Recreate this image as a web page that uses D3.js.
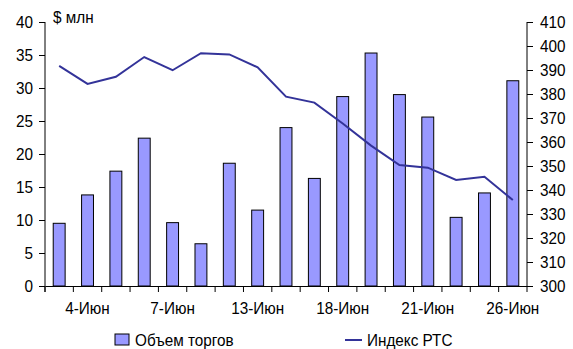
<!DOCTYPE html>
<meta charset="utf-8">
<script src="https://d3js.org/d3.v7.min.js"></script>
<style>
  body { margin: 0; background: #fff; }
  text { font-family: "Liberation Sans", Arial, sans-serif; fill: #000; }
</style>
<div id="chart"></div>
<script>
  // data
  const days = ["3-Июн", "4-Июн", "5-Июн", "6-Июн", "7-Июн", "8-Июн", "11-Июн", "13-Июн", "14-Июн",
    "15-Июн", "18-Июн", "19-Июн", "20-Июн", "21-Июн", "22-Июн", "25-Июн", "26-Июн"];
  const shownDays = ["4-Июн", "7-Июн", "13-Июн", "18-Июн", "21-Июн", "26-Июн"];
  const volume = [9.5, 13.8, 17.4, 22.4, 9.6, 6.4, 18.6, 11.5, 24.0, 16.3, 28.7, 35.3, 29.0, 25.6, 10.4, 14.1, 31.1];
  const rts = [391.7, 384.2, 387.2, 395.4, 389.9, 397.0, 396.5, 391.1, 378.9, 376.4, 367.7, 358.5, 350.4, 349.3, 344.2, 345.5, 335.8];
  const leftTicks = [0, 5, 10, 15, 20, 25, 30, 35, 40];
  const rightTicks = [300, 310, 320, 330, 340, 350, 360, 370, 380, 390, 400, 410];

  const W = 573, H = 349;
  const margin = { top: 22, right: 46, bottom: 63, left: 45 };
  const width = W - margin.left - margin.right,
    height = H - margin.top - margin.bottom;

  const svg = d3.select("#chart").append("svg")
    .attr("width", W).attr("height", H);
  const g = svg.append("g")
    .attr("transform", `translate(${margin.left},${margin.top})`);

  const x = d3.scaleBand().domain(days).range([0, width]);
  const yL = d3.scaleLinear().domain([0, 40]).range([height, 0]);
  const yR = d3.scaleLinear().domain([300, 410]).range([height, 0]);

  // bars
  const bw = x.bandwidth() * 0.42;
  g.selectAll("rect.bar")
    .data(volume)
    .join("rect")
    .attr("class", "bar")
    .attr("x", (d, i) => x(days[i]) + x.bandwidth() / 2 - bw / 2)
    .attr("y", d => yL(d))
    .attr("width", bw)
    .attr("height", d => height - yL(d))
    .attr("fill", "#9999ff")
    .attr("stroke", "#000")
    .attr("stroke-width", 1);

  // line
  const line = d3.line()
    .x((d, i) => x(days[i]) + x.bandwidth() / 2)
    .y(d => yR(d));
  g.append("path")
    .datum(rts)
    .attr("d", line)
    .attr("fill", "none")
    .attr("stroke", "#333399")
    .attr("stroke-width", 2);

  // axes
  const fs = "17px", sq = "scale(0.9,1)";
  const axL = g.append("g")
    .call(d3.axisLeft(yL).tickValues(leftTicks).tickSize(6).tickPadding(6));
  const axR = g.append("g")
    .attr("transform", `translate(${width},0)`)
    .call(d3.axisRight(yR).tickValues(rightTicks).tickSize(6).tickPadding(7));
  const axX = g.append("g")
    .attr("transform", `translate(0,${height})`)
    .call(d3.axisBottom(x).tickSize(0).tickFormat(d => shownDays.includes(d) ? d : ""));
  axX.selectAll("text").attr("dy", "1.45em");
  // tick marks between categories
  axX.selectAll("line.sep")
    .data(d3.range(days.length + 1))
    .join("line")
    .attr("class", "sep")
    .attr("x1", i => i * x.step()).attr("x2", i => i * x.step())
    .attr("y1", 0).attr("y2", 6)
    .attr("stroke", "#000");
  [axL, axR, axX].forEach(a => {
    a.select(".domain").attr("stroke", "#000");
    a.selectAll("text").style("font-size", fs).attr("fill", "#000").attr("transform", sq);
  });
  axL.selectAll("text").attr("x", -12 / 0.9);
  axR.selectAll("text").attr("x", 13 / 0.9);
  axL.select(".domain").attr("d", `M0,0V${height + 6}`);
  axR.select(".domain").attr("d", `M0,0V${height}`);

  g.append("g").attr("transform", "translate(8,1)")
    .append("text")
    .attr("transform", sq)
    .style("font-size", fs)
    .text("$ млн");

  // legend
  const leg = svg.append("g");
  leg.append("rect")
    .attr("x", 115).attr("y", 334).attr("width", 14).attr("height", 11)
    .attr("fill", "#9999ff").attr("stroke", "#000");
  leg.append("g").attr("transform", "translate(135,346)")
    .append("text").attr("transform", sq).style("font-size", fs).text("Объем торгов");
  leg.append("line")
    .attr("x1", 345).attr("x2", 362).attr("y1", 340).attr("y2", 340)
    .attr("stroke", "#333399").attr("stroke-width", 2);
  leg.append("g").attr("transform", "translate(367,346)")
    .append("text").attr("transform", sq).style("font-size", fs).text("Индекс РТС");
</script>
